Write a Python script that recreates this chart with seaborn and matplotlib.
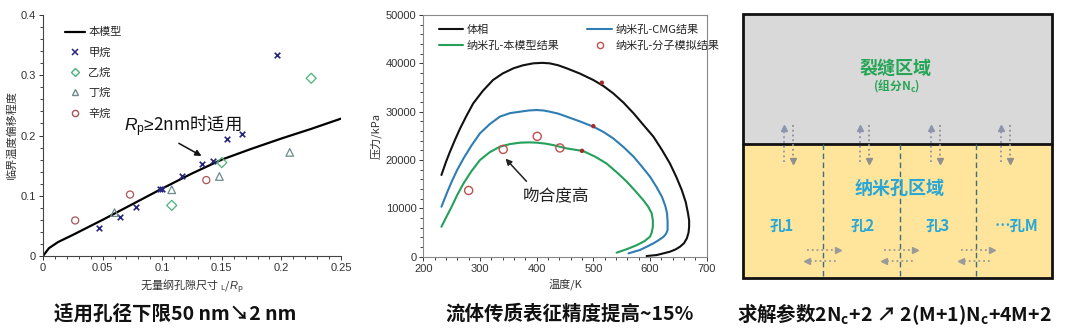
import numpy as np
import pandas as pd
import matplotlib
matplotlib.use("Agg")
import matplotlib.pyplot as plt
import seaborn as sns
from matplotlib.lines import Line2D
from matplotlib.patches import Rectangle
from matplotlib.ticker import MultipleLocator, FuncFormatter

# ---------------- data: panel 1 ----------------
model_x = [0, 0.005, 0.0125, 0.025, 0.05, 0.075, 0.1, 0.125, 0.15, 0.175, 0.2, 0.225, 0.25]
model_y = [0, 0.013, 0.023, 0.035, 0.060, 0.086, 0.112, 0.137, 0.160, 0.178, 0.195, 0.211, 0.228]
methane_x = [0.047, 0.065, 0.078, 0.098, 0.100, 0.117, 0.133, 0.143, 0.154, 0.167, 0.196]
methane_y = [0.047, 0.065, 0.081, 0.112, 0.112, 0.132, 0.152, 0.157, 0.195, 0.203, 0.333]
ethane_x = [0.108, 0.150, 0.225]
ethane_y = [0.084, 0.155, 0.295]
butane_x = [0.060, 0.108, 0.148, 0.207]
butane_y = [0.072, 0.110, 0.132, 0.172]
octane_x = [0.027, 0.073, 0.137]
octane_y = [0.059, 0.102, 0.126]
x1_ticks = [0, 0.05, 0.1, 0.15, 0.2, 0.25]
y1_ticks = [0, 0.1, 0.2, 0.3, 0.4]

# ---------------- data: panel 2 ----------------
bulk_T = [232, 240, 247, 256, 265, 276, 288, 305, 323, 340, 359, 376, 394, 410, 423, 438, 453, 476, 500,
          518, 535, 553, 571, 588, 606, 621, 635, 646, 656, 663, 667, 669, 669, 668, 665, 660, 653, 645,
          635, 612, 594]
bulk_P = [16900, 19600, 21700, 24200, 26550, 29100, 31700, 34300, 36550, 37900, 38970, 39600, 40000, 40100,
          40000, 39600, 38970, 37900, 36550, 35300, 33800, 31900, 29660, 27300, 24830, 22100, 19310, 16600,
          13800, 11300, 9000, 7500, 6200, 5000, 3800, 2800, 2070, 1500, 1030, 345, 140]
cmg_T = [232, 241, 250, 260, 271, 285, 300, 317, 335, 353, 371, 386, 400, 412, 423, 438, 453, 476, 500, 518,
         535, 553, 571, 586, 600, 611, 621, 627, 630, 631, 631, 628, 624, 615, 606, 594, 582, 562]
cmg_P = [10340, 13000, 15500, 18000, 20340, 23000, 25520, 27400, 28970, 29700, 30000, 30250, 30340, 30250,
         30000, 29600, 28970, 28000, 26900, 25800, 24480, 22700, 20690, 18600, 16550, 14500, 12410, 10500,
         8970, 7200, 5520, 4700, 4140, 3400, 2760, 2050, 1380, 690]
model_T = [232, 241, 250, 260, 271, 285, 300, 317, 335, 353, 371, 386, 400, 415, 429, 453, 482, 503, 523,
           541, 559, 574, 588, 597, 603, 605, 605, 603, 600, 590, 577, 560, 541]
model_P = [6200, 8300, 10340, 12800, 15170, 17700, 20000, 21600, 22760, 23300, 23590, 23650, 23590, 23400,
           23100, 22400, 21860, 20700, 19310, 17500, 15520, 13600, 11720, 10300, 8970, 7500, 6200, 5000,
           4140, 3200, 2410, 1600, 830]
md_T = [280, 341, 401, 441]
md_P = [13700, 22200, 24900, 22500]
crit_T = [515, 500, 480]
crit_P = [36000, 27000, 21900]

# ---------------- text ----------------
title1 = "适用孔径下限50 nm↘2 nm"
title2 = "流体传质表征精度提高~15%"
title3 = r"求解参数2N$_\mathregular{c}$+2 ↗ 2(M+1)N$_\mathregular{c}$+4M+2"

sns.set_theme(style="ticks")
plt.rcParams['font.family'] = ['Liberation Sans', 'Noto Sans CJK SC', 'DejaVu Sans']
plt.rcParams['axes.unicode_minus'] = False
plt.rcParams['mathtext.fontset'] = 'custom'
plt.rcParams['mathtext.rm'] = 'Liberation Sans'
plt.rcParams['mathtext.it'] = 'Liberation Sans:italic'
cjk = ['Noto Sans CJK SC', 'DejaVu Sans']

fig = plt.figure(figsize=(10.8, 3.3), dpi=100)
fig.patch.set_facecolor('white')

# ================= panel 1 =================
ax1 = fig.add_axes([43/1080, 1-256/330, (341-43)/1080, (256-15)/330])
c_me, c_et, c_bu, c_oc = '#25257f', '#4db37a', '#6d8a8c', '#a8555a'
sns.lineplot(x=model_x, y=model_y, ax=ax1, color='black', lw=1.6, sort=False, estimator=None)
sns.scatterplot(x=methane_x, y=methane_y, ax=ax1, marker='x', s=16, color=c_me, linewidth=1.2, zorder=3)
sns.scatterplot(x=ethane_x, y=ethane_y, ax=ax1, marker='D', s=26, facecolor='none', edgecolor=c_et, linewidth=0.9, zorder=3)
sns.scatterplot(x=butane_x, y=butane_y, ax=ax1, marker='^', s=30, facecolor='none', edgecolor=c_bu, linewidth=0.9, zorder=3)
sns.scatterplot(x=octane_x, y=octane_y, ax=ax1, marker='o', s=26, facecolor='none', edgecolor=c_oc, linewidth=0.9, zorder=3)
ax1.set_xlim(0, 0.25)
ax1.set_ylim(0, 0.4)
ax1.set_xticks(x1_ticks)
ax1.set_yticks(y1_ticks)
ax1.xaxis.set_minor_locator(MultipleLocator(0.01))
ax1.yaxis.set_minor_locator(MultipleLocator(0.02))
fmt = FuncFormatter(lambda v, p: ('%g' % round(v, 3)))
ax1.xaxis.set_major_formatter(fmt)
ax1.yaxis.set_major_formatter(fmt)
ax1.tick_params(labelsize=8, length=3, width=0.7, colors='#333333', pad=2)
ax1.tick_params(which='minor', length=2, width=0.6)
for s in ['top', 'right']:
    ax1.spines[s].set_visible(False)
for s in ['left', 'bottom']:
    ax1.spines[s].set_color('#444444')
    ax1.spines[s].set_linewidth(0.8)
ax1.set_xlabel(r"无量纲孔隙尺寸 $_\mathregular{L}$/$R_\mathregular{p}$", fontsize=8, labelpad=3,
               color='#333333', family=cjk)
ax1.set_ylabel("临界温度偏移程度", fontsize=8, labelpad=3, color='#333333', family=cjk)
h1 = [Line2D([], [], color='black', lw=1.6),
      Line2D([], [], ls='none', marker='x', ms=4, mec=c_me, mew=1.1),
      Line2D([], [], ls='none', marker='D', ms=4, mfc='none', mec=c_et),
      Line2D([], [], ls='none', marker='^', ms=4.5, mfc='none', mec=c_bu),
      Line2D([], [], ls='none', marker='o', ms=4.5, mfc='none', mec=c_oc)]
ax1.legend(h1, ['本模型', '甲烷', '乙烷', '丁烷', '辛烷'], loc='upper left', bbox_to_anchor=(0.04, 0.99),
           frameon=False, handlelength=1.8, labelspacing=0.9, handletextpad=0.3,
           prop={'family': cjk, 'size': 8})
ax1.text(0.068, 0.215, r"$R_\mathrm{p}\mathrm{≥}$2nm时适用", fontsize=12.5, va='center', ha='left',
         color='#111111', family=cjk)
ax1.annotate("", xy=(0.133, 0.166), xytext=(0.114, 0.187),
             arrowprops=dict(arrowstyle='-|>', color='#111111', lw=1.1, mutation_scale=9,
                             shrinkA=0, shrinkB=0))

# ================= panel 2 =================
ax2 = fig.add_axes([423.3/1080, 1-256.7/330, (706.7-423.3)/1080, (256.7-15)/330])
c_blk, c_cmg, c_mod, c_md = '#111111', '#2e7db3', '#23a05a', '#c0504d'
sns.lineplot(x=bulk_T, y=bulk_P, ax=ax2, color=c_blk, lw=1.5, sort=False, estimator=None)
sns.lineplot(x=cmg_T, y=cmg_P, ax=ax2, color=c_cmg, lw=1.5, sort=False, estimator=None)
sns.lineplot(x=model_T, y=model_P, ax=ax2, color=c_mod, lw=1.5, sort=False, estimator=None)
sns.scatterplot(x=crit_T, y=crit_P, ax=ax2, color='#a52a2a', s=10, edgecolor='none', zorder=4)
sns.scatterplot(x=md_T, y=md_P, ax=ax2, marker='o', s=34, facecolor='none', edgecolor=c_md, linewidth=1.0, zorder=4)
ax2.set_xlim(200, 700)
ax2.set_ylim(0, 50000)
ax2.xaxis.set_major_locator(MultipleLocator(100))
ax2.xaxis.set_minor_locator(MultipleLocator(20))
ax2.yaxis.set_major_locator(MultipleLocator(10000))
ax2.yaxis.set_minor_locator(MultipleLocator(2000))
ax2.tick_params(labelsize=8, length=3, width=0.7, colors='#333333', pad=2)
ax2.tick_params(which='minor', length=2, width=0.6)
for s in ax2.spines.values():
    s.set_color('#888888')
    s.set_linewidth(0.8)
ax2.set_xlabel("温度/K", fontsize=8, labelpad=3, color='#333333', family=cjk)
ax2.set_ylabel("压力/kPa", fontsize=8, labelpad=3, color='#333333', family=cjk)
h2 = [Line2D([], [], color=c_blk, lw=1.5),
      Line2D([], [], color=c_mod, lw=1.5),
      Line2D([], [], color=c_cmg, lw=1.5),
      Line2D([], [], ls='none', marker='o', ms=4.5, mfc='none', mec=c_md)]
ax2.legend(h2, ['体相', '纳米孔-本模型结果', '纳米孔-CMG结果', '纳米孔-分子模拟结果'], ncol=2,
           loc='upper left', bbox_to_anchor=(0.02, 1.0), frameon=False,
           handlelength=2.2, columnspacing=2.5, labelspacing=0.5, handletextpad=0.3,
           prop={'family': cjk, 'size': 8})
ax2.text(376, 12400, "吻合度高", fontsize=12, va='center', ha='left', color='#222222', family=cjk)
ax2.annotate("", xy=(345, 20300), xytext=(382, 15600),
             arrowprops=dict(arrowstyle='-|>', color='#222222', lw=1.1, mutation_scale=9,
                             shrinkA=0, shrinkB=0))

# ================= panel 3 (schematic) =================
ax3 = fig.add_axes([0, 0, 1, 1], zorder=-1)
ax3.set_xlim(0, 1080)
ax3.set_ylim(330, 0)
ax3.axis('off')
ax3.add_patch(Rectangle((743, 14), 309, 130, facecolor='#d9d9d9', edgecolor='none'))
ax3.add_patch(Rectangle((743, 144), 309, 134, facecolor='#fee59b', edgecolor='none'))
ax3.add_patch(Rectangle((743, 14), 309, 264, facecolor='none', edgecolor='#111111', lw=2))
ax3.plot([743, 1052], [144, 144], color='#111111', lw=2)
for xd in [822.7, 900, 976]:
    ax3.plot([xd, xd], [144, 278], color='#3e6e7c', lw=1.0, ls=(0, (4, 2.5)))
ax3.text(896, 68, "裂缝区域", ha='center', va='center', fontsize=13, fontweight='bold', color='#25a556', family=cjk)
ax3.text(897, 86, r"(组分N$_\mathregular{c}$)", ha='center', va='center', fontsize=8.5, fontweight='bold', color='#25a556', family=cjk)
ax3.text(900, 188, "纳米孔区域", ha='center', va='center', fontsize=13, fontweight='bold', color='#2aa7d6', family=cjk)
for xt, lab in [(782, "孔1"), (863, "孔2"), (938, "孔3"), (1017, "…孔M")]:
    ax3.text(xt, 226, lab, ha='center', va='center', fontsize=11, fontweight='bold', color='#2aa7d6', family=cjk)
# vertical exchange arrows
for xu, xdn in [(784, 793), (860, 869), (931, 940), (1001, 1010)]:
    ax3.plot([xu, xu], [162, 130], color='#8d95ad', lw=1.3, ls=':')
    ax3.plot([xu], [128], marker='^', ms=5, color='#8d95ad', ls='none')
    ax3.plot([xdn, xdn], [125, 159], color='#8f8f8f', lw=1.3, ls=':')
    ax3.plot([xdn], [161], marker='v', ms=5, color='#8f8f8f', ls='none')
# horizontal exchange arrows
for xl, xr in [(807, 838), (884, 915), (961, 992)]:
    ax3.plot([xl, xr - 3], [250, 250], color='#9a9a9a', lw=1.3, ls=':')
    ax3.plot([xr], [250], marker='>', ms=5, color='#9a9a9a', ls='none')
    ax3.plot([xl + 3, xr], [261, 261], color='#9a9a9a', lw=1.3, ls=':')
    ax3.plot([xl], [261], marker='<', ms=5, color='#9a9a9a', ls='none')

# bottom titles
ax3.text(175, 314, title1, ha='center', va='center', fontsize=14, fontweight='bold', color='#111111', family=cjk)
ax3.text(570, 314, title2, ha='center', va='center', fontsize=14, fontweight='bold', color='#111111', family=cjk)
ax3.text(894, 314, title3, ha='center', va='center', fontsize=14, fontweight='bold', color='#111111', family=cjk)

fig.savefig("out.png", dpi=100, facecolor='white')
